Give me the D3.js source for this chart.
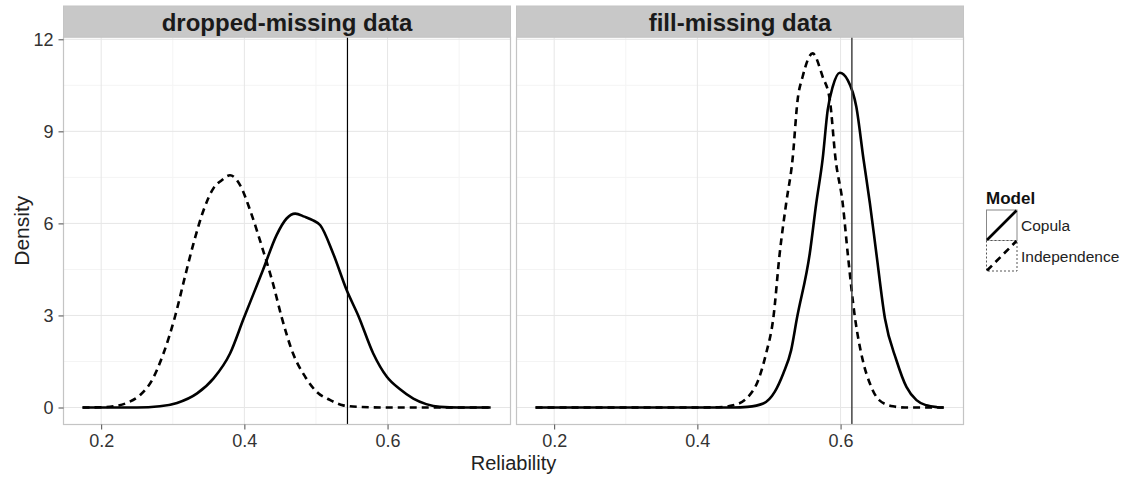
<!DOCTYPE html>
<html>
<head>
<meta charset="utf-8">
<script src="https://cdn.jsdelivr.net/npm/d3@7"></script>
<style>
  body { margin: 0; background: #fff; }
  svg text { font-family: "Liberation Sans", Arial, Helvetica, sans-serif; }
</style>
</head>
<body>
<svg id="chart" width="1128" height="480"></svg>
<script>
// ---------- data ----------
const panels = ["dropped-missing data", "fill-missing data"];
const seriesNames = ["Copula", "Independence"];
const xTicks = [0.2, 0.4, 0.6];
const xMinor = [0.3, 0.5, 0.7];
const yTicks = [0, 3, 6, 9, 12];
const yMinor = [1.5, 4.5, 7.5, 10.5];
const refLines = [0.544, 0.6158];

// [reliability, density]
const droppedCopula = [[0.174,0],[0.25,0],[0.282,0.04],[0.306,0.15],[0.334,0.46],[0.357,0.95],[0.380,1.76],[0.399,2.9],[0.413,3.72],[0.426,4.48],[0.445,5.62],[0.459,6.16],[0.471,6.32],[0.484,6.22],[0.496,6.1],[0.506,5.94],[0.524,5.02],[0.543,3.82],[0.559,3.0],[0.580,1.76],[0.599,1.0],[0.617,0.6],[0.636,0.29],[0.654,0.11],[0.673,0.02],[0.70,0],[0.744,0]];
const droppedIndep = [[0.174,0],[0.20,0.01],[0.217,0.04],[0.236,0.15],[0.254,0.40],[0.271,0.89],[0.287,1.76],[0.303,2.95],[0.317,4.26],[0.329,5.35],[0.343,6.43],[0.357,7.15],[0.368,7.4],[0.380,7.57],[0.394,7.25],[0.408,6.43],[0.426,5.13],[0.440,4.04],[0.452,2.95],[0.468,1.76],[0.485,1.0],[0.501,0.51],[0.520,0.24],[0.538,0.07],[0.56,0.02],[0.60,0],[0.744,0]];
const fillCopula = [[0.174,0],[0.45,0],[0.47,0.02],[0.492,0.13],[0.508,0.51],[0.520,1.11],[0.531,1.87],[0.539,2.9],[0.557,5.02],[0.566,6.65],[0.575,8.1],[0.582,9.69],[0.589,10.45],[0.599,10.91],[0.610,10.67],[0.622,9.80],[0.632,8.1],[0.641,6.65],[0.650,5.02],[0.662,2.9],[0.678,1.54],[0.692,0.67],[0.706,0.24],[0.720,0.07],[0.735,0.01],[0.744,0]];
const fillIndep = [[0.174,0],[0.40,0],[0.43,0.01],[0.450,0.07],[0.471,0.35],[0.485,0.89],[0.496,1.76],[0.506,2.9],[0.515,5.02],[0.524,6.65],[0.533,8.1],[0.540,10.02],[0.547,10.78],[0.561,11.54],[0.575,10.78],[0.585,10.02],[0.593,8.1],[0.603,6.65],[0.610,5.02],[0.620,2.95],[0.631,1.54],[0.641,0.78],[0.654,0.24],[0.673,0.04],[0.69,0],[0.744,0]];

const panelSeries = [
  [droppedCopula, droppedIndep],
  [fillCopula, fillIndep]
];

// ---------- layout ----------
const svg = d3.select("#chart");
const panelLefts = [63.5, 516.5];
const panelW = 447;
const stripTop = 6, stripH = 31;
const plotTop = 37, plotBottom = 424.5;
const dashes = [null, "7,5"];

const y = d3.scaleLinear().domain([-0.554, 12.075]).range([plotBottom, plotTop]);

panels.forEach((title, pi) => {
  const x0 = panelLefts[pi];
  const x = d3.scaleLinear().domain([0.1474, 0.7717]).range([x0, x0 + panelW]);
  const g = svg.append("g");

  g.append("rect").attr("x", x0).attr("y", plotTop).attr("width", panelW)
    .attr("height", plotBottom - plotTop).attr("fill", "#fff");

  // minor grid
  g.selectAll(".vmin").data(xMinor).join("line")
    .attr("x1", d => x(d)).attr("x2", d => x(d)).attr("y1", plotTop).attr("y2", plotBottom)
    .attr("stroke", "#f4f4f4").attr("stroke-width", 1);
  g.selectAll(".hmin").data(yMinor).join("line")
    .attr("x1", x0).attr("x2", x0 + panelW).attr("y1", d => y(d)).attr("y2", d => y(d))
    .attr("stroke", "#f4f4f4").attr("stroke-width", 1);
  // major grid
  g.selectAll(".vmaj").data(xTicks).join("line")
    .attr("x1", d => x(d)).attr("x2", d => x(d)).attr("y1", plotTop).attr("y2", plotBottom)
    .attr("stroke", "#e6e6e6").attr("stroke-width", 1);
  g.selectAll(".hmaj").data(yTicks).join("line")
    .attr("x1", x0).attr("x2", x0 + panelW).attr("y1", d => y(d)).attr("y2", d => y(d))
    .attr("stroke", "#e6e6e6").attr("stroke-width", 1);

  // curves
  const line = d3.line().x(d => x(d[0])).y(d => y(d[1])).curve(d3.curveMonotoneX);
  panelSeries[pi].forEach((s, si) => {
    g.append("path").attr("d", line(s)).attr("fill", "none")
      .attr("stroke", "#000").attr("stroke-width", 2.6)
      .attr("stroke-linejoin", "round")
      .attr("stroke-dasharray", dashes[si]);
  });

  // reference line
  g.append("line").attr("x1", x(refLines[pi])).attr("x2", x(refLines[pi]))
    .attr("y1", plotTop).attr("y2", plotBottom)
    .attr("stroke", pi === 0 ? "#000" : "#444").attr("stroke-width", pi === 0 ? 1.2 : 1.5);

  // border
  g.append("rect").attr("x", x0).attr("y", plotTop).attr("width", panelW)
    .attr("height", plotBottom - plotTop).attr("fill", "none")
    .attr("stroke", "#c4c4c4").attr("stroke-width", 1.2);

  // strip
  g.append("rect").attr("x", x0).attr("y", stripTop).attr("width", panelW).attr("height", stripH)
    .attr("fill", "#c8c8c8").attr("stroke", "#c4c4c4").attr("stroke-width", 1);
  g.append("text").attr("x", x0 + panelW / 2).attr("y", stripTop + 25)
    .attr("text-anchor", "middle").attr("font-size", 24).attr("font-weight", "bold")
    .attr("fill", "#1a1a1a").text(title);

  // x axis
  const xa = svg.append("g").attr("transform", `translate(0,${plotBottom})`)
    .call(d3.axisBottom(x).tickValues(xTicks).tickFormat(d3.format(".1f")).tickSize(5).tickPadding(5));
  xa.select(".domain").remove();
  xa.selectAll(".tick line").attr("stroke", "#4d4d4d");
  xa.selectAll(".tick text").attr("font-size", 18).attr("fill", "#333")
    .attr("font-family", "Liberation Sans, Arial, sans-serif");

  if (pi === 0) {
    const ya = svg.append("g").attr("transform", `translate(${x0},0)`)
      .call(d3.axisLeft(y).tickValues(yTicks).tickSize(5).tickPadding(5));
    ya.select(".domain").remove();
    ya.selectAll(".tick line").attr("stroke", "#4d4d4d");
    ya.selectAll(".tick text").attr("font-size", 18).attr("fill", "#333")
      .attr("font-family", "Liberation Sans, Arial, sans-serif");
  }
});

// axis titles
svg.append("text").attr("x", (panelLefts[0] + panelLefts[1] + panelW) / 2).attr("y", 470)
  .attr("text-anchor", "middle").attr("font-size", 20).attr("fill", "#222").text("Reliability");
svg.append("text").attr("transform", `translate(28.5,${(plotTop + plotBottom) / 2}) rotate(-90)`)
  .attr("text-anchor", "middle").attr("font-size", 21).attr("fill", "#222").text("Density");

// legend
const lg = svg.append("g");
lg.append("text").attr("x", 986).attr("y", 204).attr("font-size", 17).attr("font-weight", "bold")
  .attr("fill", "#111").text("Model");
seriesNames.forEach((name, i) => {
  const ky = 210 + i * 30.5;
  lg.append("rect").attr("x", 986.5).attr("y", ky).attr("width", 30.5).attr("height", 30.5)
    .attr("fill", "#fff").attr("stroke", i === 0 ? "#888" : "#555")
    .attr("stroke-width", 1).attr("stroke-dasharray", i === 0 ? null : "2,2");
  lg.append("line").attr("x1", 987).attr("y1", ky + 30).attr("x2", 1016.5).attr("y2", ky + 0.5)
    .attr("stroke", "#000").attr("stroke-width", 2.6).attr("stroke-dasharray", dashes[i]);
  lg.append("text").attr("x", 1021).attr("y", ky + 21).attr("font-size", 15.5)
    .attr("fill", "#222").text(name);
});
</script>
</body>
</html>
